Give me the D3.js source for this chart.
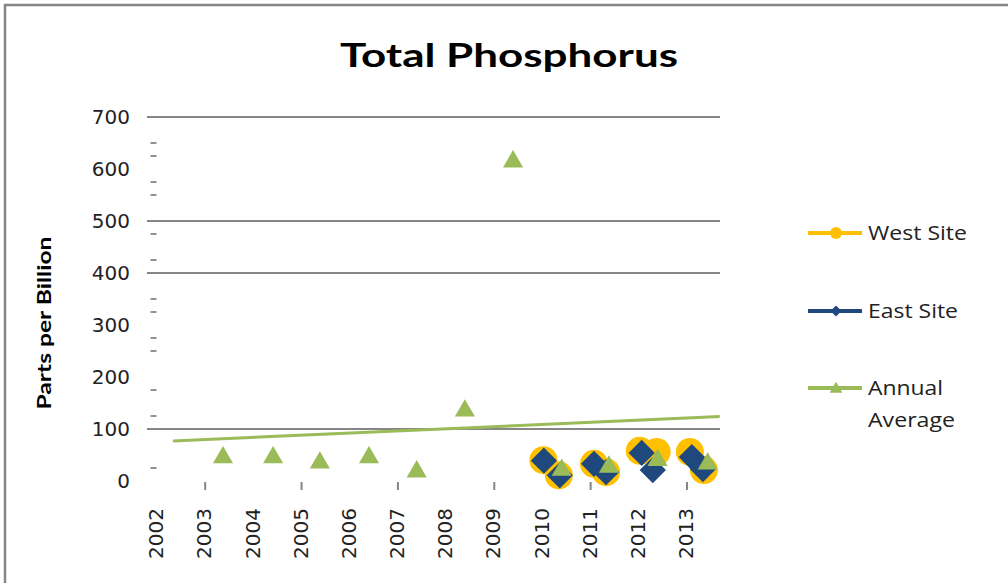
<!DOCTYPE html>
<html>
<head>
<meta charset="utf-8">
<script src="https://cdn.jsdelivr.net/npm/d3@7"></script>
<style>
  body { margin: 0; background: #fff; }
  svg { display: block; }
</style>
</head>
<body>
<svg id="chart"></svg>
<script>
//data
var yearLabels = [2002, 2003, 2004, 2005, 2006, 2007, 2008, 2009, 2010, 2011, 2012, 2013];
var yearTicks = [2003, 2005, 2007, 2009, 2011, 2013];
var yTickLabels = [0, 100, 200, 300, 400, 500, 600, 700];
var gridValues = [100, 400, 500, 700];
var minorTicks = [650, 625, 575, 550, 475, 425, 350, 325, 275, 250, 175, 125, 25];

var westX = [2010.02, 2010.34, 2011.07, 2011.32, 2012.02, 2012.37, 2013.06, 2013.35];
var westY = [40, 11, 33, 17, 58, 56, 56, 21];
var eastX = [2010.03, 2010.36, 2011.07, 2011.32, 2012.06, 2012.29, 2013.10, 2013.33];
var eastY = [39, 11, 33, 17, 54, 21, 46, 23];
var avgX = [2003.37, 2004.41, 2005.38, 2006.40, 2007.39, 2008.39, 2009.39, 2010.40, 2011.38, 2012.39, 2013.43];
var avgY = [48, 48, 38, 48, 21, 138, 617, 24, 30, 43, 36];
var trendX = [2002.33, 2013.68];
var trendY = [77, 124];

var seriesNames = ["West Site", "East Site", "Annual Average"];

///some constants
var W = 1008, H = 583;
var yellow = "#FFC000", navy = "#1F497D", green = "#9BBB59", grey = "#868686";
var plotLeft = 147, plotRight = 720;

var svg = d3.select("#chart").attr("width", W).attr("height", H);

//frame (only top and left edges show)
svg.append("path")
  .attr("d", "M5,583 V5 H1008")
  .attr("fill", "none")
  .attr("stroke", grey)
  .attr("stroke-width", 2.5);

var x = d3.scaleLinear().domain([2002, 2013]).range([157, 687]);
var y = d3.scaleLinear().domain([0, 700]).range([481, 117]);

//title
svg.append("text")
  .attr("x", 509).attr("y", 67)
  .attr("text-anchor", "middle")
  .attr("textLength", 338).attr("lengthAdjust", "spacingAndGlyphs")
  .style("font-family", "Lato, 'Open Sans', sans-serif")
  .style("font-weight", "bold").style("font-size", "32px")
  .text("Total Phosphorus");

//y axis title
svg.append("text")
  .attr("transform", "translate(51,323) rotate(-90)")
  .attr("text-anchor", "middle")
  .attr("textLength", 173).attr("lengthAdjust", "spacingAndGlyphs")
  .style("font-family", "Lato, 'Open Sans', sans-serif")
  .style("font-weight", "bold").style("font-size", "18px")
  .text("Parts per Billion");

//gridlines
svg.append("g").selectAll("line")
  .data(gridValues)
  .enter().append("line")
  .attr("x1", plotLeft).attr("x2", plotRight)
  .attr("y1", function (d) { return y(d); })
  .attr("y2", function (d) { return y(d); })
  .attr("stroke", grey).attr("stroke-width", 2);

//stray minor tick dashes
svg.append("g").selectAll("line")
  .data(minorTicks)
  .enter().append("line")
  .attr("x1", 150.5).attr("x2", 156.5)
  .attr("y1", function (d) { return y(d); })
  .attr("y2", function (d) { return y(d); })
  .attr("stroke", grey).attr("stroke-width", 1.8);

//y labels
svg.append("g").selectAll("text")
  .data(yTickLabels)
  .enter().append("text")
  .attr("x", 130)
  .attr("y", function (d) { return y(d); })
  .attr("dy", "0.36em")
  .attr("text-anchor", "end")
  .style("font-family", "'DejaVu Sans', sans-serif")
  .style("font-size", "20px")
  .attr("fill", "#222")
  .text(function (d) { return d; });

//x ticks every 2 years
svg.append("g").selectAll("line")
  .data(yearTicks)
  .enter().append("line")
  .attr("x1", function (d) { return x(d); })
  .attr("x2", function (d) { return x(d); })
  .attr("y1", 482).attr("y2", 490)
  .attr("stroke", grey).attr("stroke-width", 2);

//x labels, rotated
svg.append("g").selectAll("text")
  .data(yearLabels)
  .enter().append("text")
  .attr("transform", function (d) { return "translate(" + (x(d) - 1) + ",508) rotate(-90)"; })
  .attr("dy", "0.36em")
  .attr("text-anchor", "end")
  .style("font-family", "'DejaVu Sans', sans-serif")
  .style("font-size", "20px")
  .attr("fill", "#222")
  .text(function (d) { return d; });

//trend line
var line = d3.line()
  .x(function (d) { return x(d[0]); })
  .y(function (d) { return y(d[1]); });
svg.append("path")
  .datum(d3.zip(trendX, trendY))
  .attr("d", line)
  .attr("fill", "none")
  .attr("stroke", green)
  .attr("stroke-width", 3);

var triangle = d3.symbol().type(d3.symbolTriangle).size(175);
var diamond = d3.symbol().type(d3.symbolSquare).size(345);

//west site circles
svg.append("g").selectAll("circle")
  .data(d3.zip(westX, westY))
  .enter().append("circle")
  .attr("cx", function (d) { return x(d[0]); })
  .attr("cy", function (d) { return y(d[1]); })
  .attr("r", 14)
  .attr("fill", yellow);

//east site diamonds
svg.append("g").selectAll("path")
  .data(d3.zip(eastX, eastY))
  .enter().append("path")
  .attr("d", diamond)
  .attr("transform", function (d) { return "translate(" + x(d[0]) + "," + y(d[1]) + ") rotate(45)"; })
  .attr("fill", navy);

//annual average triangles
svg.append("g").selectAll("path")
  .data(d3.zip(avgX, avgY))
  .enter().append("path")
  .attr("d", triangle)
  .attr("transform", function (d) { return "translate(" + x(d[0]) + "," + (y(d[1]) + 1.5) + ")"; })
  .attr("fill", green);

//legend
var legendY = [233, 311, 388];
var legendColors = [yellow, navy, green];
var legendLen = [99, 90, 75];
var leg = svg.append("g");
leg.selectAll("line")
  .data(seriesNames)
  .enter().append("line")
  .attr("x1", 808).attr("x2", 862)
  .attr("y1", function (d, i) { return legendY[i]; })
  .attr("y2", function (d, i) { return legendY[i]; })
  .attr("stroke", function (d, i) { return legendColors[i]; })
  .attr("stroke-width", 4);
leg.append("circle").attr("cx", 836).attr("cy", legendY[0]).attr("r", 6).attr("fill", yellow);
leg.append("path").attr("d", d3.symbol().type(d3.symbolSquare).size(60))
  .attr("transform", "translate(836," + legendY[1] + ") rotate(45)").attr("fill", navy);
leg.append("path").attr("d", d3.symbol().type(d3.symbolTriangle).size(70))
  .attr("transform", "translate(836," + (legendY[2] + 1) + ")").attr("fill", green);

leg.selectAll("text.name")
  .data(["West Site", "East Site", "Annual"])
  .enter().append("text")
  .attr("class", "name")
  .attr("x", 868)
  .attr("y", function (d, i) { return legendY[i]; })
  .attr("dy", "0.35em")
  .attr("textLength", function (d, i) { return legendLen[i]; })
  .attr("lengthAdjust", "spacingAndGlyphs")
  .style("font-family", "'Open Sans', sans-serif")
  .style("font-size", "20px")
  .attr("fill", "#222")
  .text(function (d) { return d; });
leg.append("text")
  .attr("x", 868).attr("y", legendY[2] + 32)
  .attr("dy", "0.35em")
  .attr("textLength", 87).attr("lengthAdjust", "spacingAndGlyphs")
  .style("font-family", "'Open Sans', sans-serif")
  .style("font-size", "20px")
  .attr("fill", "#222")
  .text("Average");
</script>
</body>
</html>
